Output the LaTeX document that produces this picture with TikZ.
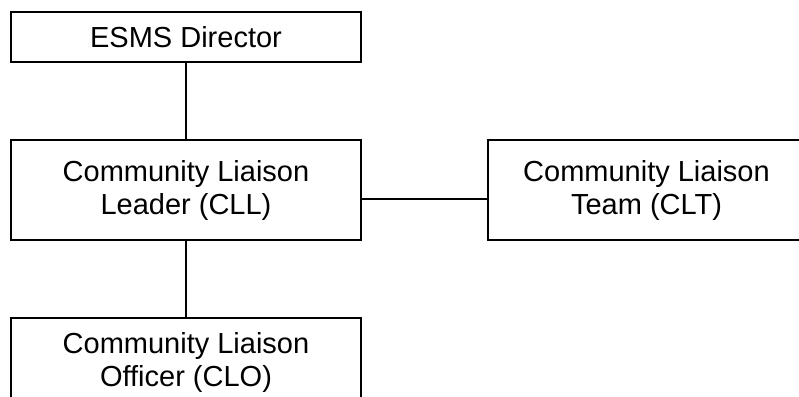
\documentclass[tikz,border=0pt]{standalone}
\usepackage{fontspec}
\setmainfont{Liberation Sans}
\begin{document}
\begin{tikzpicture}[x=1pt,y=-1pt,
  orgbox/.style={draw=black,line width=2pt,align=center,inner sep=0pt,
    font=\fontsize{29}{33}\selectfont},
  link/.style={draw=black,line width=2pt}]
\useasboundingbox (0,0) rectangle (799,396);
\node[orgbox,minimum width=350pt,minimum height=50pt] (dir) at (186,37) {ESMS Director};
\node[orgbox,minimum width=350pt,minimum height=100pt] (cll) at (186,190) {Community Liaison\\Leader (CLL)};
\node[orgbox,minimum width=317pt,minimum height=100pt] (clt) at (646.5,190) {Community Liaison\\Team (CLT)};
\node[orgbox,minimum width=350pt,minimum height=88pt] (clo) at (186,362) {Community Liaison\\Officer (CLO)};
\draw[link] (dir.south) -- (cll.north);
\draw[link] (cll.south) -- (clo.north);
\draw[link] ([yshift=-9pt]cll.east) -- ([yshift=-9pt]clt.west);
\end{tikzpicture}
\end{document}
